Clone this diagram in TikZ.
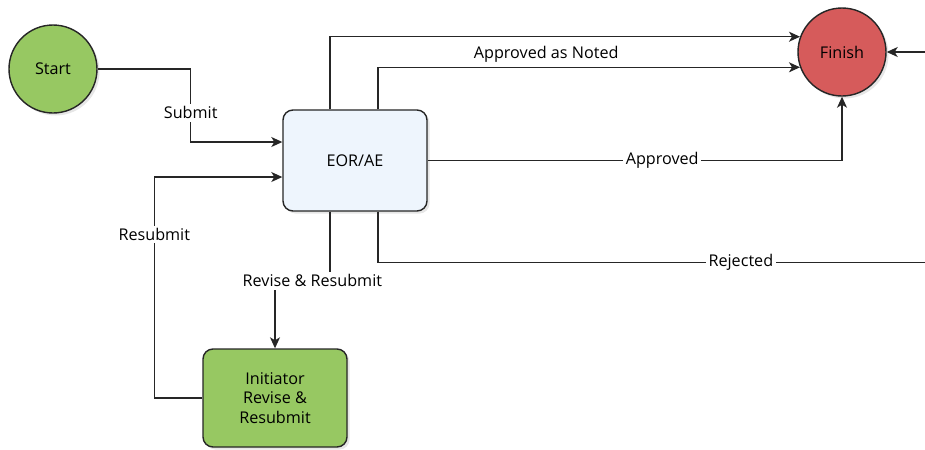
\documentclass[tikz,border=0pt]{standalone}
\usepackage{fontspec}
\setmainfont{Open Sans}
\usetikzlibrary{arrows.meta, positioning, shadows}

\definecolor{startgreen}{HTML}{97C862}
\definecolor{finishred}{HTML}{D65B5B}
\definecolor{reviewblue}{HTML}{EEF5FD}

\begin{document}
\begin{tikzpicture}[
      x=0.2mm, y=-0.2mm,
      font=\fontsize{9.2}{11}\selectfont,
      state/.style={circle, draw=black!85, line width=0.8pt, minimum size=17.6mm, inner sep=0pt,
        drop shadow={opacity=0.2, shadow xshift=0.5mm, shadow yshift=-0.5mm}},
      task/.style={draw=black!85, line width=0.8pt, rounded corners=2mm, minimum width=28.8mm, align=center,
        drop shadow={opacity=0.2, shadow xshift=0.5mm, shadow yshift=-0.5mm}},
      arrow/.style={-{Stealth[length=2.2mm, width=2mm, inset=0.6mm]}, line width=0.7pt, draw=black!85},
      tag/.style={fill=white, inner sep=1.5pt}
    ]
    \clip (0,0) rectangle (925,449);

    \node[state, fill=startgreen] (start) at (53,69) {Start};
    \node[state, fill=finishred] (finish) at (842,52) {Finish};
    \node[task, fill=reviewblue, minimum height=20.2mm] (eor) at (355,160.5) {EOR/AE};
    \node[task, fill=startgreen, minimum height=19.6mm] (init) at (275,398) {Initiator\\Revise \&\\Resubmit};

    \draw[arrow] (start.east) -- ++(93,0) |- node[tag, pos=0.3] {Submit} ([yshift=3.7mm]eor.west);
    \draw[arrow] (init.west) -- ++(-48,0) |- node[tag, pos=0.37] {Resubmit} ([yshift=-3.3mm]eor.west);
    \draw[arrow] ([xshift=-5mm]eor.south) -- ++(0,69) -| node[tag, pos=0.16] {Revise \& Resubmit} (init.north);

    \draw[arrow] ([xshift=-5mm]eor.north) |- node[below=1.5pt, pos=0.73] {Approved as Noted} (finish.160);
    \draw[arrow] ([xshift=4.6mm]eor.north) |- (finish.200);
    \draw[arrow] (eor.east) -| node[tag, pos=0.283] {Approved} (finish.south);
    \draw[arrow] ([xshift=4.6mm]eor.south) -- ++(0,51) -- node[tag, pos=0.64] {Rejected} ++(567,0) |- (finish.east);
  \end{tikzpicture}
\end{document}
